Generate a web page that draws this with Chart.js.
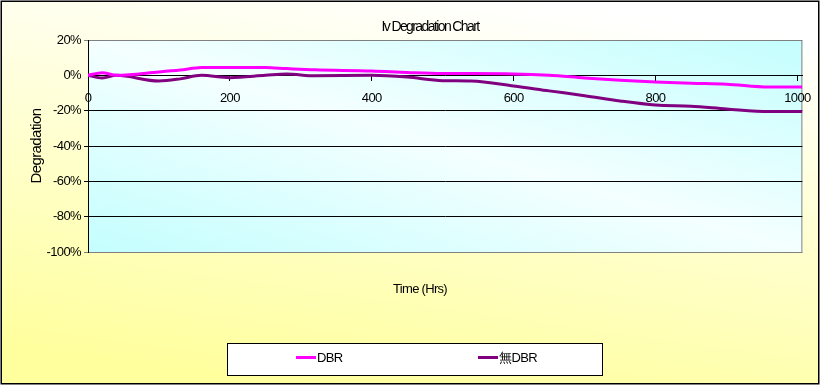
<!DOCTYPE html>
<html>
<head>
<meta charset="utf-8">
<script src="https://cdn.jsdelivr.net/npm/chart.js@4"></script>
<style>
html,body{margin:0;padding:0;background:#fff;}
#wrap{width:822px;height:387px;position:relative;}
</style>
</head>
<body>
<div id="wrap"><canvas id="c" width="822" height="387"></canvas></div>
<script>
const chartTitle = 'Iv Degradation Chart';
const xTitle = 'Time (Hrs)';
const yTitle = 'Degradation';
const seriesNames = ['DBR', '無DBR'];
const hours = [0, 20, 40, 100, 130, 160, 200, 250, 280, 320, 400, 450, 500, 540, 600, 650, 700, 750, 800, 850, 900, 960, 1007];
const dbr = [0, 1.5, 0, 1.9, 3, 4.4, 4.5, 4.4, 3.8, 3.1, 2.5, 1.6, 1, 1, 0.8, 0, -1.5, -2.8, -3.8, -4.5, -5, -6.6, -6.6];
const noDbr = [0, -1.5, 0, -3.2, -2, 0, -1.3, 0, 0.8, -0.3, 0, -1, -3, -3.2, -6, -8.8, -11.5, -14.5, -16.8, -17.5, -19, -20.5, -20.5];
const xTicks = [0, 200, 400, 600, 800, 1000];
const yTicks = [20, 0, -20, -40, -60, -80, -100];

const FONT = "'Liberation Sans', Arial, sans-serif";
const colors = ['#FF00FF', '#800080'];

const bgPlugin = {
  id: 'bg',
  beforeDraw(chart) {
    const ctx = chart.ctx;
    const W = chart.width, H = chart.height;
    ctx.save();
    ctx.fillStyle = '#ffffff';
    ctx.fillRect(0, 0, W, H);
    ctx.save();
    ctx.translate(1, 1);
    ctx.scale(818, 383);
    let g = ctx.createLinearGradient(0.65, 0, 0.35, 1);
    g.addColorStop(0, '#FFFFFF');
    g.addColorStop(1, '#FFFF9E');
    ctx.fillStyle = g;
    ctx.fillRect(0, 0, 1, 1);
    ctx.restore();
    const a = chart.chartArea;
    ctx.save();
    ctx.translate(a.left, a.top);
    ctx.scale(a.right - a.left, a.bottom - a.top);
    g = ctx.createLinearGradient(0, 1, 1, 0);
    g.addColorStop(0, '#C4FEFE');
    g.addColorStop(0.5, '#F4FFFF');
    g.addColorStop(1, '#C4FEFE');
    ctx.fillStyle = g;
    ctx.fillRect(0, 0, 1, 1);
    ctx.restore();
    ctx.strokeStyle = '#808080';
    ctx.lineWidth = 1;
    ctx.strokeRect(a.left + 0.5, a.top + 0.5, a.right - a.left - 1, a.bottom - a.top);
    ctx.restore();
    ctx.letterSpacing = '-0.6px';
  },
  afterDraw(chart) {
    const ctx = chart.ctx;
    ctx.save();
    ctx.strokeStyle = '#000';
    ctx.lineWidth = 1.5;
    ctx.strokeRect(1.25, 1.25, 817.5, 382.5);
    ctx.fillStyle = '#000';
    ctx.textAlign = 'center';
    ctx.textBaseline = 'middle';
    ctx.font = '14px ' + FONT;
    ctx.letterSpacing = '-1.6px';
    ctx.fillText(chartTitle, 430, 27);
    ctx.font = '13px ' + FONT;
    ctx.letterSpacing = '-0.7px';
    ctx.fillText(xTitle, 420, 289);
    ctx.fillStyle = '#ffffff';
    ctx.fillRect(228, 343, 374, 32);
    ctx.strokeStyle = '#000';
    ctx.lineWidth = 1;
    ctx.strokeRect(227.5, 343.5, 375, 32);
    const items = [{x: 296}, {x: 478}];
    ctx.letterSpacing = '-0.6px';
    chart.data.datasets.forEach((ds, i) => {
      const x = items[i].x;
      ctx.strokeStyle = ds.borderColor;
      ctx.lineWidth = 3;
      ctx.beginPath();
      ctx.moveTo(x, 357.5);
      ctx.lineTo(x + 20, 357.5);
      ctx.stroke();
      ctx.fillStyle = '#000';
      ctx.textAlign = 'left';
      ctx.font = '13px ' + FONT;
      ctx.fillText(ds.label, x + 21, 358);
    });
    ctx.restore();
  }
};

new Chart(document.getElementById('c'), {
  type: 'line',
  data: {
    datasets: [
      { label: seriesNames[0], data: hours.map((h, i) => ({x: h, y: dbr[i]})), borderColor: colors[0], backgroundColor: colors[0], borderWidth: 3, pointRadius: 0, cubicInterpolationMode: 'monotone', fill: false },
      { label: seriesNames[1], data: hours.map((h, i) => ({x: h, y: noDbr[i]})), borderColor: colors[1], backgroundColor: colors[1], borderWidth: 3, pointRadius: 0, cubicInterpolationMode: 'monotone', fill: false }
    ]
  },
  options: {
    responsive: false,
    animation: false,
    events: [],
    layout: { padding: { left: 0, right: 19, top: 40, bottom: 135 } },
    plugins: { legend: { display: false }, title: { display: false }, tooltip: { enabled: false } },
    scales: {
      x: {
        type: 'linear',
        position: { y: 0 },
        min: 0, max: 1007,
        afterBuildTicks(scale) { scale.ticks = xTicks.map(v => ({value: v})); },
        ticks: { color: '#000', font: { family: FONT, size: 13 }, padding: 10, maxRotation: 0, autoSkip: false, callback: v => String(v) },
        grid: { drawOnChartArea: false, drawTicks: true, tickLength: 5, color: '#000', lineWidth: 1 },
        border: { display: true, color: '#000', width: 1 }
      },
      y: {
        type: 'linear',
        position: 'left',
        min: -100, max: 20,
        afterBuildTicks(scale) { scale.ticks = yTicks.map(v => ({value: v})); },
        afterFit(scale) { scale.width = 88; },
        ticks: { color: '#000', font: { family: FONT, size: 13 }, padding: 3, callback: v => v + '%' },
        grid: {
          drawTicks: true, tickLength: 4, lineWidth: 1,
          color: ctx => (ctx.tick && (ctx.tick.value === 20 || ctx.tick.value === -100)) ? '#808080' : (ctx.tick && ctx.tick.value === 0 ? 'rgba(0,0,0,0)' : '#000')
        },
        border: { display: true, color: '#000', width: 1 },
        title: { display: true, text: yTitle, color: '#000', font: { family: FONT, size: 15 }, padding: { top: 28, bottom: 0 } }
      }
    }
  },
  plugins: [bgPlugin]
});
</script>
</body>
</html>
